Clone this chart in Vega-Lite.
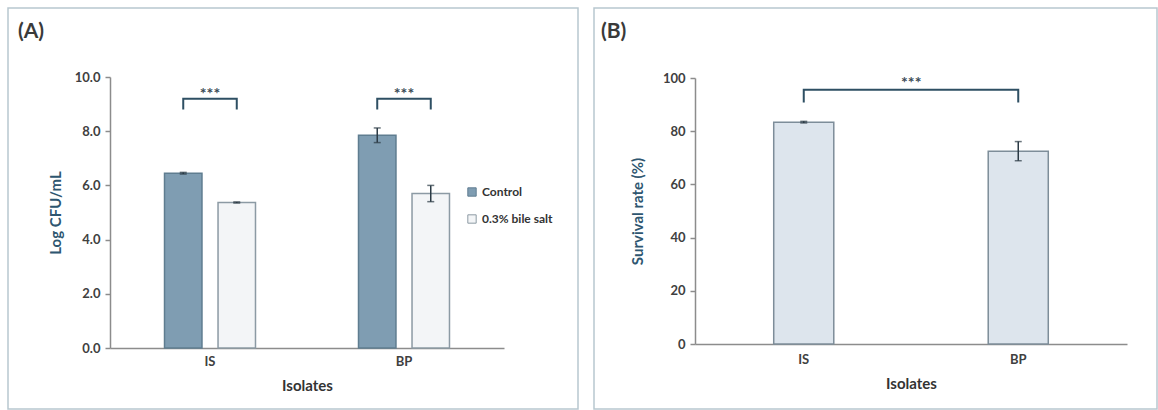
{
  "$schema": "https://vega.github.io/schema/vega-lite/v6.json",
  "padding": {"left": 7, "top": 7, "right": 0, "bottom": 0},
  "spacing": 14,
  "config": {
    "font": "Lato",
    "view": {"stroke": "#b8c7cf", "strokeWidth": 1.5},
    "axis": {
      "grid": false,
      "domainColor": "#8c8c8c",
      "domainWidth": 1.5,
      "tickColor": "#8c8c8c",
      "tickWidth": 1.5,
      "labelFont": "Lato",
      "labelFontWeight": "bold",
      "labelColor": "#404040",
      "labelFontSize": 13,
      "titleFont": "Lato",
      "titleFontSize": 15,
      "titleFontWeight": "bold"
    }
  },
  "hconcat": [
    {
      "width": 570,
      "height": 401,
      "title": {"text": "(A)", "anchor": "start", "frame": "group", "offset": -34, "dx": 10, "fontSize": 21, "fontWeight": "bold", "color": "#3a3a3a", "font": "Lato"},
      "data": {"values": [
        {"isolate": "IS", "group": "Control", "mean": 6.45, "lo": 6.42, "hi": 6.48},
        {"isolate": "IS", "group": "0.3% bile salt", "mean": 5.37, "lo": 5.35, "hi": 5.39},
        {"isolate": "BP", "group": "Control", "mean": 7.85, "lo": 7.58, "hi": 8.12},
        {"isolate": "BP", "group": "0.3% bile salt", "mean": 5.7, "lo": 5.4, "hi": 6.0}
      ]},
      "encoding": {
        "x": {"field": "isolate", "type": "nominal", "sort": ["IS", "BP"],
          "scale": {"range": [102, 496], "paddingInner": 0.531, "paddingOuter": 0.281, "align": 0.5},
          "axis": {"title": "Isolates", "labelAngle": 0, "ticks": false, "offset": -61, "labelPadding": 7, "titlePadding": 10, "titleColor": "#333333"}}
      },
      "layer": [
        {
          "mark": {"type": "bar", "strokeWidth": 1.5},
          "encoding": {
            "xOffset": {"field": "group", "type": "nominal", "sort": ["Control", "0.3% bile salt"], "scale": {"paddingInner": 0.3}},
            "y": {"field": "mean", "type": "quantitative", "scale": {"domain": [0, 10], "range": [340, 69]},
              "axis": {"title": "Log CFU/mL", "values": [0, 2, 4, 6, 8, 10], "format": ".1f", "offset": -102, "tickSize": 5, "labelPadding": 5, "titlePadding": 11, "titleColor": "#2e5670"}},
            "fill": {"field": "group", "type": "nominal", "sort": ["Control", "0.3% bile salt"],
              "scale": {"domain": ["Control", "0.3% bile salt"], "range": ["#7f9db2", "#f3f5f7"]},
              "legend": {"orient": "none", "legendX": 458, "legendY": 178, "title": null, "symbolType": "square", "symbolSize": 70, "symbolStrokeColor": "#666666", "symbolStrokeWidth": 1, "labelFont": "Lato", "labelFontSize": 12, "labelFontWeight": "bold", "labelColor": "#333333", "rowPadding": 13, "labelOffset": 4}},
            "stroke": {"field": "group", "type": "nominal",
              "scale": {"domain": ["Control", "0.3% bile salt"], "range": ["#5f7d90", "#8c9aa4"]}, "legend": null}
          }
        },
        {
          "mark": {"type": "rule", "color": "#2b3a45", "strokeWidth": 1.5},
          "encoding": {
            "xOffset": {"field": "group", "type": "nominal", "sort": ["Control", "0.3% bile salt"], "scale": {"paddingInner": 0.3}},
            "y": {"field": "lo", "type": "quantitative"},
            "y2": {"field": "hi"}
          }
        },
        {
          "mark": {"type": "tick", "orient": "horizontal", "size": 7, "thickness": 1.5, "color": "#2b3a45"},
          "encoding": {
            "xOffset": {"field": "group", "type": "nominal", "sort": ["Control", "0.3% bile salt"], "scale": {"paddingInner": 0.3}},
            "y": {"field": "lo", "type": "quantitative"}
          }
        },
        {
          "mark": {"type": "tick", "orient": "horizontal", "size": 7, "thickness": 1.5, "color": "#2b3a45"},
          "encoding": {
            "xOffset": {"field": "group", "type": "nominal", "sort": ["Control", "0.3% bile salt"], "scale": {"paddingInner": 0.3}},
            "y": {"field": "hi", "type": "quantitative"}
          }
        },
        {
          "data": {"values": [
            {"isolate": "IS", "group": "Control", "y": 8.8, "s": 0, "b": "IS"},
            {"isolate": "IS", "group": "Control", "y": 9.2, "s": 1, "b": "IS"},
            {"isolate": "IS", "group": "0.3% bile salt", "y": 9.2, "s": 2, "b": "IS"},
            {"isolate": "IS", "group": "0.3% bile salt", "y": 8.8, "s": 3, "b": "IS"},
            {"isolate": "BP", "group": "Control", "y": 8.8, "s": 0, "b": "BP"},
            {"isolate": "BP", "group": "Control", "y": 9.2, "s": 1, "b": "BP"},
            {"isolate": "BP", "group": "0.3% bile salt", "y": 9.2, "s": 2, "b": "BP"},
            {"isolate": "BP", "group": "0.3% bile salt", "y": 8.8, "s": 3, "b": "BP"}
          ]},
          "mark": {"type": "line", "color": "#2e4f63", "strokeWidth": 2},
          "encoding": {
            "xOffset": {"field": "group", "type": "nominal", "sort": ["Control", "0.3% bile salt"], "scale": {"paddingInner": 0.3}},
            "y": {"field": "y", "type": "quantitative"},
            "detail": {"field": "b"},
            "order": {"field": "s", "type": "quantitative"}
          }
        },
        {
          "data": {"values": [
            {"isolate": "IS", "y": 9.38, "label": "***"},
            {"isolate": "BP", "y": 9.38, "label": "***"}
          ]},
          "mark": {"type": "text", "fontSize": 16, "fontWeight": "bold", "color": "#3a4a55", "baseline": "middle"},
          "encoding": {
            "y": {"field": "y", "type": "quantitative"},
            "text": {"field": "label"}
          }
        }
      ]
    },
    {
      "width": 563,
      "height": 401,
      "title": {"text": "(B)", "anchor": "start", "frame": "group", "offset": -34, "dx": 7, "fontSize": 21, "fontWeight": "bold", "color": "#3a3a3a", "font": "Lato"},
      "data": {"values": [
        {"isolate": "IS", "rate": 83.4, "lo": 83.1, "hi": 83.7},
        {"isolate": "BP", "rate": 72.5, "lo": 68.9, "hi": 76.1}
      ]},
      "encoding": {
        "x": {"field": "isolate", "type": "nominal", "sort": ["IS", "BP"],
          "scale": {"range": [101, 533], "paddingInner": 0.72, "paddingOuter": 0.367, "align": 0.5},
          "axis": {"title": "Isolates", "labelAngle": 0, "ticks": false, "offset": -65, "labelPadding": 9, "titlePadding": 10, "titleColor": "#333333"}}
      },
      "layer": [
        {
          "mark": {"type": "bar", "fill": "#dde5ed", "stroke": "#7d8d99", "strokeWidth": 1.5},
          "encoding": {
            "y": {"field": "rate", "type": "quantitative", "scale": {"domain": [0, 100], "range": [336, 70]},
              "axis": {"title": "Survival rate (%)", "values": [0, 20, 40, 60, 80, 100], "offset": -101, "tickSize": 5, "labelPadding": 5, "titlePadding": 17, "titleColor": "#2e5670"}}
          }
        },
        {
          "mark": {"type": "rule", "color": "#2b3a45", "strokeWidth": 1.5},
          "encoding": {
            "y": {"field": "lo", "type": "quantitative"},
            "y2": {"field": "hi"}
          }
        },
        {
          "mark": {"type": "tick", "orient": "horizontal", "size": 7, "thickness": 1.5, "color": "#2b3a45"},
          "encoding": {"y": {"field": "lo", "type": "quantitative"}}
        },
        {
          "mark": {"type": "tick", "orient": "horizontal", "size": 7, "thickness": 1.5, "color": "#2b3a45"},
          "encoding": {"y": {"field": "hi", "type": "quantitative"}}
        },
        {
          "data": {"values": [
            {"isolate": "IS", "y": 90.8, "s": 0},
            {"isolate": "IS", "y": 95.6, "s": 1},
            {"isolate": "BP", "y": 95.6, "s": 2},
            {"isolate": "BP", "y": 90.8, "s": 3}
          ]},
          "mark": {"type": "line", "color": "#2e4f63", "strokeWidth": 2},
          "encoding": {
            "y": {"field": "y", "type": "quantitative"},
            "order": {"field": "s", "type": "quantitative"}
          }
        },
        {
          "data": {"values": [{"isolate": "IS", "y": 98.0, "label": "***"}]},
          "mark": {"type": "text", "fontSize": 16, "fontWeight": "bold", "color": "#3a4a55", "baseline": "middle"},
          "encoding": {
            "x": {"field": "isolate", "type": "nominal", "sort": ["IS", "BP"], "bandPosition": 2.29},
            "y": {"field": "y", "type": "quantitative"},
            "text": {"field": "label"}
          }
        }
      ]
    }
  ]
}
